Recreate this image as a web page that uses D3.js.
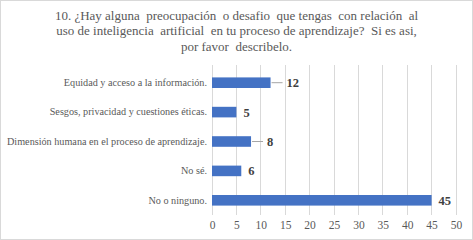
<!DOCTYPE html>
<meta charset="utf-8">
<script src="https://d3js.org/d3.v7.min.js"></script>
<style>
  body { margin: 0; background: #fff; }
  svg text { font-family: "Liberation Serif", "Times New Roman", "DejaVu Serif", serif; }
</style>
<div id="my_dataviz"></div>
<script>
  // data
  var categories = [
    "Equidad y acceso a la información.",
    "Sesgos, privacidad y cuestiones éticas.",
    "Dimensión humana en el proceso de aprendizaje.",
    "No sé.",
    "No o ninguno."
  ];
  var values = [12, 5, 8, 6, 45];
  var xTicks = [0, 5, 10, 15, 20, 25, 30, 35, 40, 45, 50];
  // labels that sit a bit further out, with a leader line
  var leader = [true, false, true, false, false];
  var titleLines = [
    "10. ¿Hay alguna  preocupación  o desafio  que tengas  con relación  al",
    "uso de inteligencia  artificial  en tu proceso de aprendizaje?  Si es asi,",
    "por favor  describelo."
  ];

  var W = 473, H = 240;
  var svg = d3.select("#my_dataviz").append("svg")
    .attr("width", W).attr("height", H);

  // outer border
  svg.append("rect")
    .attr("x", 0.5).attr("y", 0.5)
    .attr("width", W - 1).attr("height", H - 1)
    .attr("fill", "#fff").attr("stroke", "#d9d9d9");

  // title
  svg.append("g").selectAll("text")
    .data(titleLines)
    .enter().append("text")
    .attr("x", W / 2)
    .attr("y", function (d, i) { return 19.5 + i * 15.8; })
    .attr("text-anchor", "middle")
    .attr("fill", "#595959")
    .style("font-size", "13px")
    .style("white-space", "pre")
    .text(function (d) { return d; });

  var x = d3.scaleLinear().domain([0, 50]).range([212, 456]);
  var y = d3.scaleBand().domain(categories).range([68, 215]).paddingInner(0.64).paddingOuter(0.32);

  // gridlines
  svg.append("g").selectAll("line")
    .data(xTicks)
    .enter().append("line")
    .attr("x1", function (d) { return x(d); })
    .attr("x2", function (d) { return x(d); })
    .attr("y1", 65).attr("y2", 215)
    .attr("stroke", "#d9d9d9").attr("stroke-width", 1)
    .attr("shape-rendering", "crispEdges");

  // x axis labels
  var xAxis = svg.append("g")
    .attr("transform", "translate(0,215)")
    .call(d3.axisBottom(x).tickValues(xTicks).tickSize(0).tickPadding(6));
  xAxis.select(".domain").remove();
  xAxis.attr("font-family", null);
  xAxis.selectAll("text")
    .attr("fill", "#595959")
    .style("font-size", "11.5px");

  // category labels
  var yAxis = svg.append("g")
    .attr("transform", "translate(212,0)")
    .call(d3.axisLeft(y).tickSize(0).tickPadding(5));
  yAxis.select(".domain").remove();
  yAxis.attr("font-family", null);
  yAxis.selectAll("text")
    .attr("fill", "#595959")
    .style("font-size", "10.2px");

  // bars
  svg.selectAll("mybar")
    .data(values)
    .enter().append("rect")
    .attr("x", x(0))
    .attr("y", function (d, i) { return y(categories[i]); })
    .attr("width", function (d) { return x(d) - x(0); })
    .attr("height", y.bandwidth())
    .attr("fill", "#4472C4");

  // leader lines
  values.forEach(function (d, i) {
    if (!leader[i]) return;
    var cy = y(categories[i]) + y.bandwidth() / 2;
    svg.append("line")
      .attr("x1", x(d) + 1).attr("x2", x(d) + 12)
      .attr("y1", cy).attr("y2", cy)
      .attr("stroke", "#a6a6a6");
  });

  // value labels
  svg.selectAll("mylabel")
    .data(values)
    .enter().append("text")
    .attr("x", function (d, i) { return x(d) + (leader[i] ? 16 : 7); })
    .attr("y", function (d, i) { return y(categories[i]) + y.bandwidth() / 2; })
    .attr("dy", "0.36em")
    .attr("fill", "#404040")
    .style("font-weight", "bold")
    .style("font-size", "12.5px")
    .text(function (d) { return d; });
</script>
